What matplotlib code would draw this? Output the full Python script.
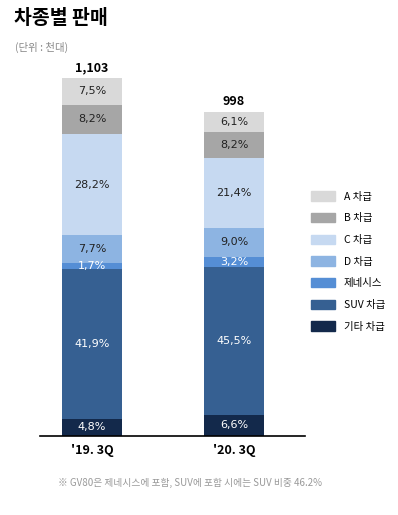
import matplotlib
matplotlib.use('Agg')
import matplotlib.pyplot as plt
from matplotlib.patches import Patch

plt.rcParams['font.family'] = ['Noto Sans CJK KR', 'DejaVu Sans']

# -------- data -------- #
periods = ["'19. 3Q", "'20. 3Q"]
totals = [1103, 998]
segments = ['기타 차급', 'SUV 차급', '제네시스', 'D 차급', 'C 차급', 'B 차급', 'A 차급']
share_19 = [4.8, 41.9, 1.7, 7.7, 28.2, 8.2, 7.5]
share_20 = [6.6, 45.5, 3.2, 9.0, 21.4, 8.2, 6.1]
colors = ['#13294b', '#366092', '#558ed5', '#8db4e2', '#c6d9f1', '#a6a6a6', '#d9d9d9']
label_colors = ['white', 'white', 'white', '#222222', '#222222', '#222222', '#222222']

# -------- plot -------- #
fig = plt.figure(figsize=(3.98, 5.15), dpi=100)
ax = fig.add_axes([40 / 398, 79 / 515, 265 / 398, 376 / 515])

shares = [share_19, share_20]
width = 0.423
for i, (tot, sh) in enumerate(zip(totals, shares)):
    bottom = 0
    for j, p in enumerate(sh):
        h = tot * p / 100
        ax.bar(i, h, width, bottom=bottom, color=colors[j], linewidth=0)
        ax.text(i, bottom + h / 2, f'{p:.1f}%'.replace('.', ','), ha='center', va='center',
                fontsize=8, color=label_colors[j], family=['DejaVu Sans'])
        bottom += h
    ax.text(i, tot + 12, f'{tot:,}', ha='center', va='bottom', fontsize=9, fontweight='bold')

ax.set_xlim(-0.366, 1.5)
ax.set_ylim(0, 1158)
for s in ['top', 'right', 'left']:
    ax.spines[s].set_visible(False)
ax.spines['bottom'].set_linewidth(1.2)
ax.spines['bottom'].set_color('black')
ax.set_yticks([])
ax.set_xticks([0, 1])
ax.set_xticklabels(periods, fontsize=9, fontweight='bold')
ax.tick_params(axis='x', length=0, pad=6)

handles = [Patch(color=colors[j], label=segments[j]) for j in range(len(segments) - 1, -1, -1)]
fig.legend(handles=handles, loc='upper left', bbox_to_anchor=(302 / 398, 1 - 182 / 515),
           frameon=False, fontsize=7.5, handlelength=2.3, handleheight=1.0,
           labelspacing=1.1, handletextpad=0.8)

fig.text(14 / 398, 1 - 18 / 515, '차종별 판매', fontsize=14, fontweight='bold', va='center')
fig.text(15 / 398, 1 - 47 / 515, '(단위 : 천대)', fontsize=7.5, color='#888888', va='center')
fig.text(190 / 398, 1 - 483 / 515, '※ GV80은 제네시스에 포함, SUV에 포함 시에는 SUV 비중 46.2%',
         fontsize=7, color='#999999', ha='center', va='center')

fig.savefig('out.png', dpi=100)
